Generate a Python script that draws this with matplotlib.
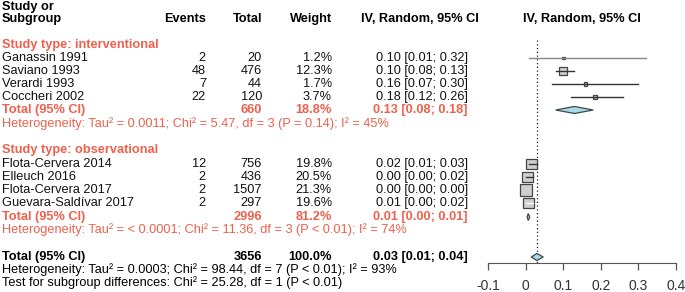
import matplotlib
matplotlib.use("Agg")
import matplotlib.pyplot as plt
import numpy as np

plt.rcParams['font.family'] = ['Liberation Sans', 'DejaVu Sans']

# study data
studies = ["Ganassin 1991", "Saviano 1993", "Verardi 1993", "Coccheri 2002",
           "Flota-Cervera 2014", "Elleuch 2016", "Flota-Cervera 2017", "Guevara-Saldívar 2017"]
events = [2, 48, 7, 22, 12, 2, 2, 2]
totals = [20, 476, 44, 120, 756, 436, 1507, 297]
weights = [1.2, 12.3, 1.7, 3.7, 19.8, 20.5, 21.3, 19.6]
est = [0.10, 0.10, 0.16, 0.185, 0.015, 0.004, 0.001, 0.008]
lo = [0.01, 0.08, 0.07, 0.12, 0.01, 0.00, 0.00, 0.00]
hi = [0.32, 0.13, 0.30, 0.26, 0.03, 0.02, 0.00, 0.02]
ci_text = ["0.10 [0.01; 0.32]", "0.10 [0.08; 0.13]", "0.16 [0.07; 0.30]", "0.18 [0.12; 0.26]",
           "0.02 [0.01; 0.03]", "0.00 [0.00; 0.02]", "0.00 [0.00; 0.00]", "0.01 [0.00; 0.02]"]

groups = ["Study type: interventional", "Study type: observational"]
group_total = [660, 2996]
group_weight = ["18.8%", "81.2%"]
group_est = [0.13, 0.007]
group_lo = [0.08, 0.004]
group_hi = [0.18, 0.011]
group_ci = ["0.13 [0.08; 0.18]", "0.01 [0.00; 0.01]"]
group_het = ["Heterogeneity: Tau² = 0.0011; Chi² = 5.47, df = 3 (P = 0.14); I² = 45%",
             "Heterogeneity: Tau² = < 0.0001; Chi² = 11.36, df = 3 (P < 0.01); I² = 74%"]

overall_total = 3656
overall_est, overall_lo, overall_hi = 0.03, 0.015, 0.047
overall_ci = "0.03 [0.01; 0.04]"
overall_het = "Heterogeneity: Tau² = 0.0003; Chi² = 98.44, df = 7 (P < 0.01); I² = 93%"
subgroup_test = "Test for subgroup differences: Chi² = 25.28, df = 1 (P < 0.01)"

xticks = [-0.1, 0, 0.1, 0.2, 0.3, 0.4]
xticklabels = ["-0.1", "0", "0.1", "0.2", "0.3", "0.4"]

# layout (pixel rows)
W, H = 685, 292
study_rows = [58, 71, 84, 97, 164, 177, 190, 203]
group_rows = [45, 150]
gtotal_rows = [110, 217]
ghet_rows = [124, 230]
RED = "#F0604C"
FS = 9.2

fig = plt.figure(figsize=(W / 100, H / 100), dpi=100)
ax = fig.add_axes([0, 0, 1, 1])
ax.set_xlim(0, W)
ax.set_ylim(H, 0)
ax.axis('off')

x_ev, x_tot, x_w, x_ci = 206, 262, 332, 468

def t(x, y, s, ha='left', **kw):
    ax.text(x, y, s, ha=ha, va='center', fontsize=FS, **kw)

# header
t(2, 7, "Study or", fontweight='bold')
t(2, 19, "Subgroup", fontweight='bold')
t(x_ev, 19, "Events", ha='right', fontweight='bold')
t(x_tot, 19, "Total", ha='right', fontweight='bold')
t(x_w, 19, "Weight", ha='right', fontweight='bold')
t(420, 19, "IV, Random, 95% CI", ha='center', fontweight='bold')
t(582, 19, "IV, Random, 95% CI", ha='center', fontweight='bold')

for i in range(len(studies)):
    y = study_rows[i]
    t(2, y, studies[i], color='#111111')
    t(x_ev, y, str(events[i]), ha='right', color='#111111')
    t(x_tot, y, str(totals[i]), ha='right', color='#111111')
    t(x_w, y, "%.1f%%" % weights[i], ha='right', color='#111111')
    t(x_ci, y, ci_text[i], ha='right', color='#111111')

for g in range(len(groups)):
    t(2, group_rows[g], groups[g], color=RED, fontweight='bold')
    t(2, gtotal_rows[g], "Total (95% CI)", color=RED, fontweight='bold')
    t(x_tot, gtotal_rows[g], str(group_total[g]), ha='right', color=RED, fontweight='bold')
    t(x_w, gtotal_rows[g], group_weight[g], ha='right', color=RED, fontweight='bold')
    t(x_ci, gtotal_rows[g], group_ci[g], ha='right', color=RED, fontweight='bold')
    t(2, ghet_rows[g], group_het[g], color=RED)

t(2, 257, "Total (95% CI)", fontweight='bold')
t(x_tot, 257, str(overall_total), ha='right', fontweight='bold')
t(x_w, 257, "100.0%", ha='right', fontweight='bold')
t(x_ci, 257, overall_ci, ha='right', fontweight='bold')
t(2, 270, overall_het)
t(2, 283, subgroup_test)

# forest panel
fx0, fx1 = 488, 676
fa = fig.add_axes([fx0 / W, 0, (fx1 - fx0) / W, 1])
fa.set_xlim(-0.1, 0.4)
fa.set_ylim(H, 0)
fa.patch.set_alpha(0)
for s in ['top', 'left', 'right']:
    fa.spines[s].set_visible(False)
fa.spines['bottom'].set_position(('data', 263))
fa.spines['bottom'].set_color('#555555')
fa.set_yticks([])
fa.set_xticks(xticks)
fa.set_xticklabels(xticklabels)
fa.tick_params(axis='x', direction='out', length=5, width=0.9, color='#555555',
               labelsize=10, labelcolor='#333333', pad=6.5)

px_per_unit = (fx1 - fx0) / 0.5

fa.plot([overall_est, overall_est], [40, 263], ls=(0, (1, 2)), color='#222222', lw=0.9, zorder=1)

for i in range(len(studies)):
    y = study_rows[i]
    side = 2.4 * np.sqrt(weights[i])
    half = side / 2 / px_per_unit
    inside = lo[i] >= est[i] - half and hi[i] <= est[i] + half
    lc = '#333333' if i > 0 else '#888888'
    fa.plot([lo[i], hi[i]], [y, y], color='white' if inside else lc, lw=1.0, zorder=4)
    fa.add_patch(plt.Rectangle((est[i] - half, y - side / 2), 2 * half, side,
                               facecolor='#d0d0d0', edgecolor='#444444', lw=0.9, zorder=3))

def diamond(e, l, h, y, hh=3.5):
    fa.fill([l, e, h, e], [y, y - hh, y, y + hh], facecolor='#add8e6',
            edgecolor='#3a4a4a', lw=0.9, zorder=5)

for g in range(len(groups)):
    diamond(group_est[g], group_lo[g], group_hi[g], gtotal_rows[g])
diamond(overall_est, overall_lo, overall_hi, 257)

fig.savefig("out.png", dpi=100)
